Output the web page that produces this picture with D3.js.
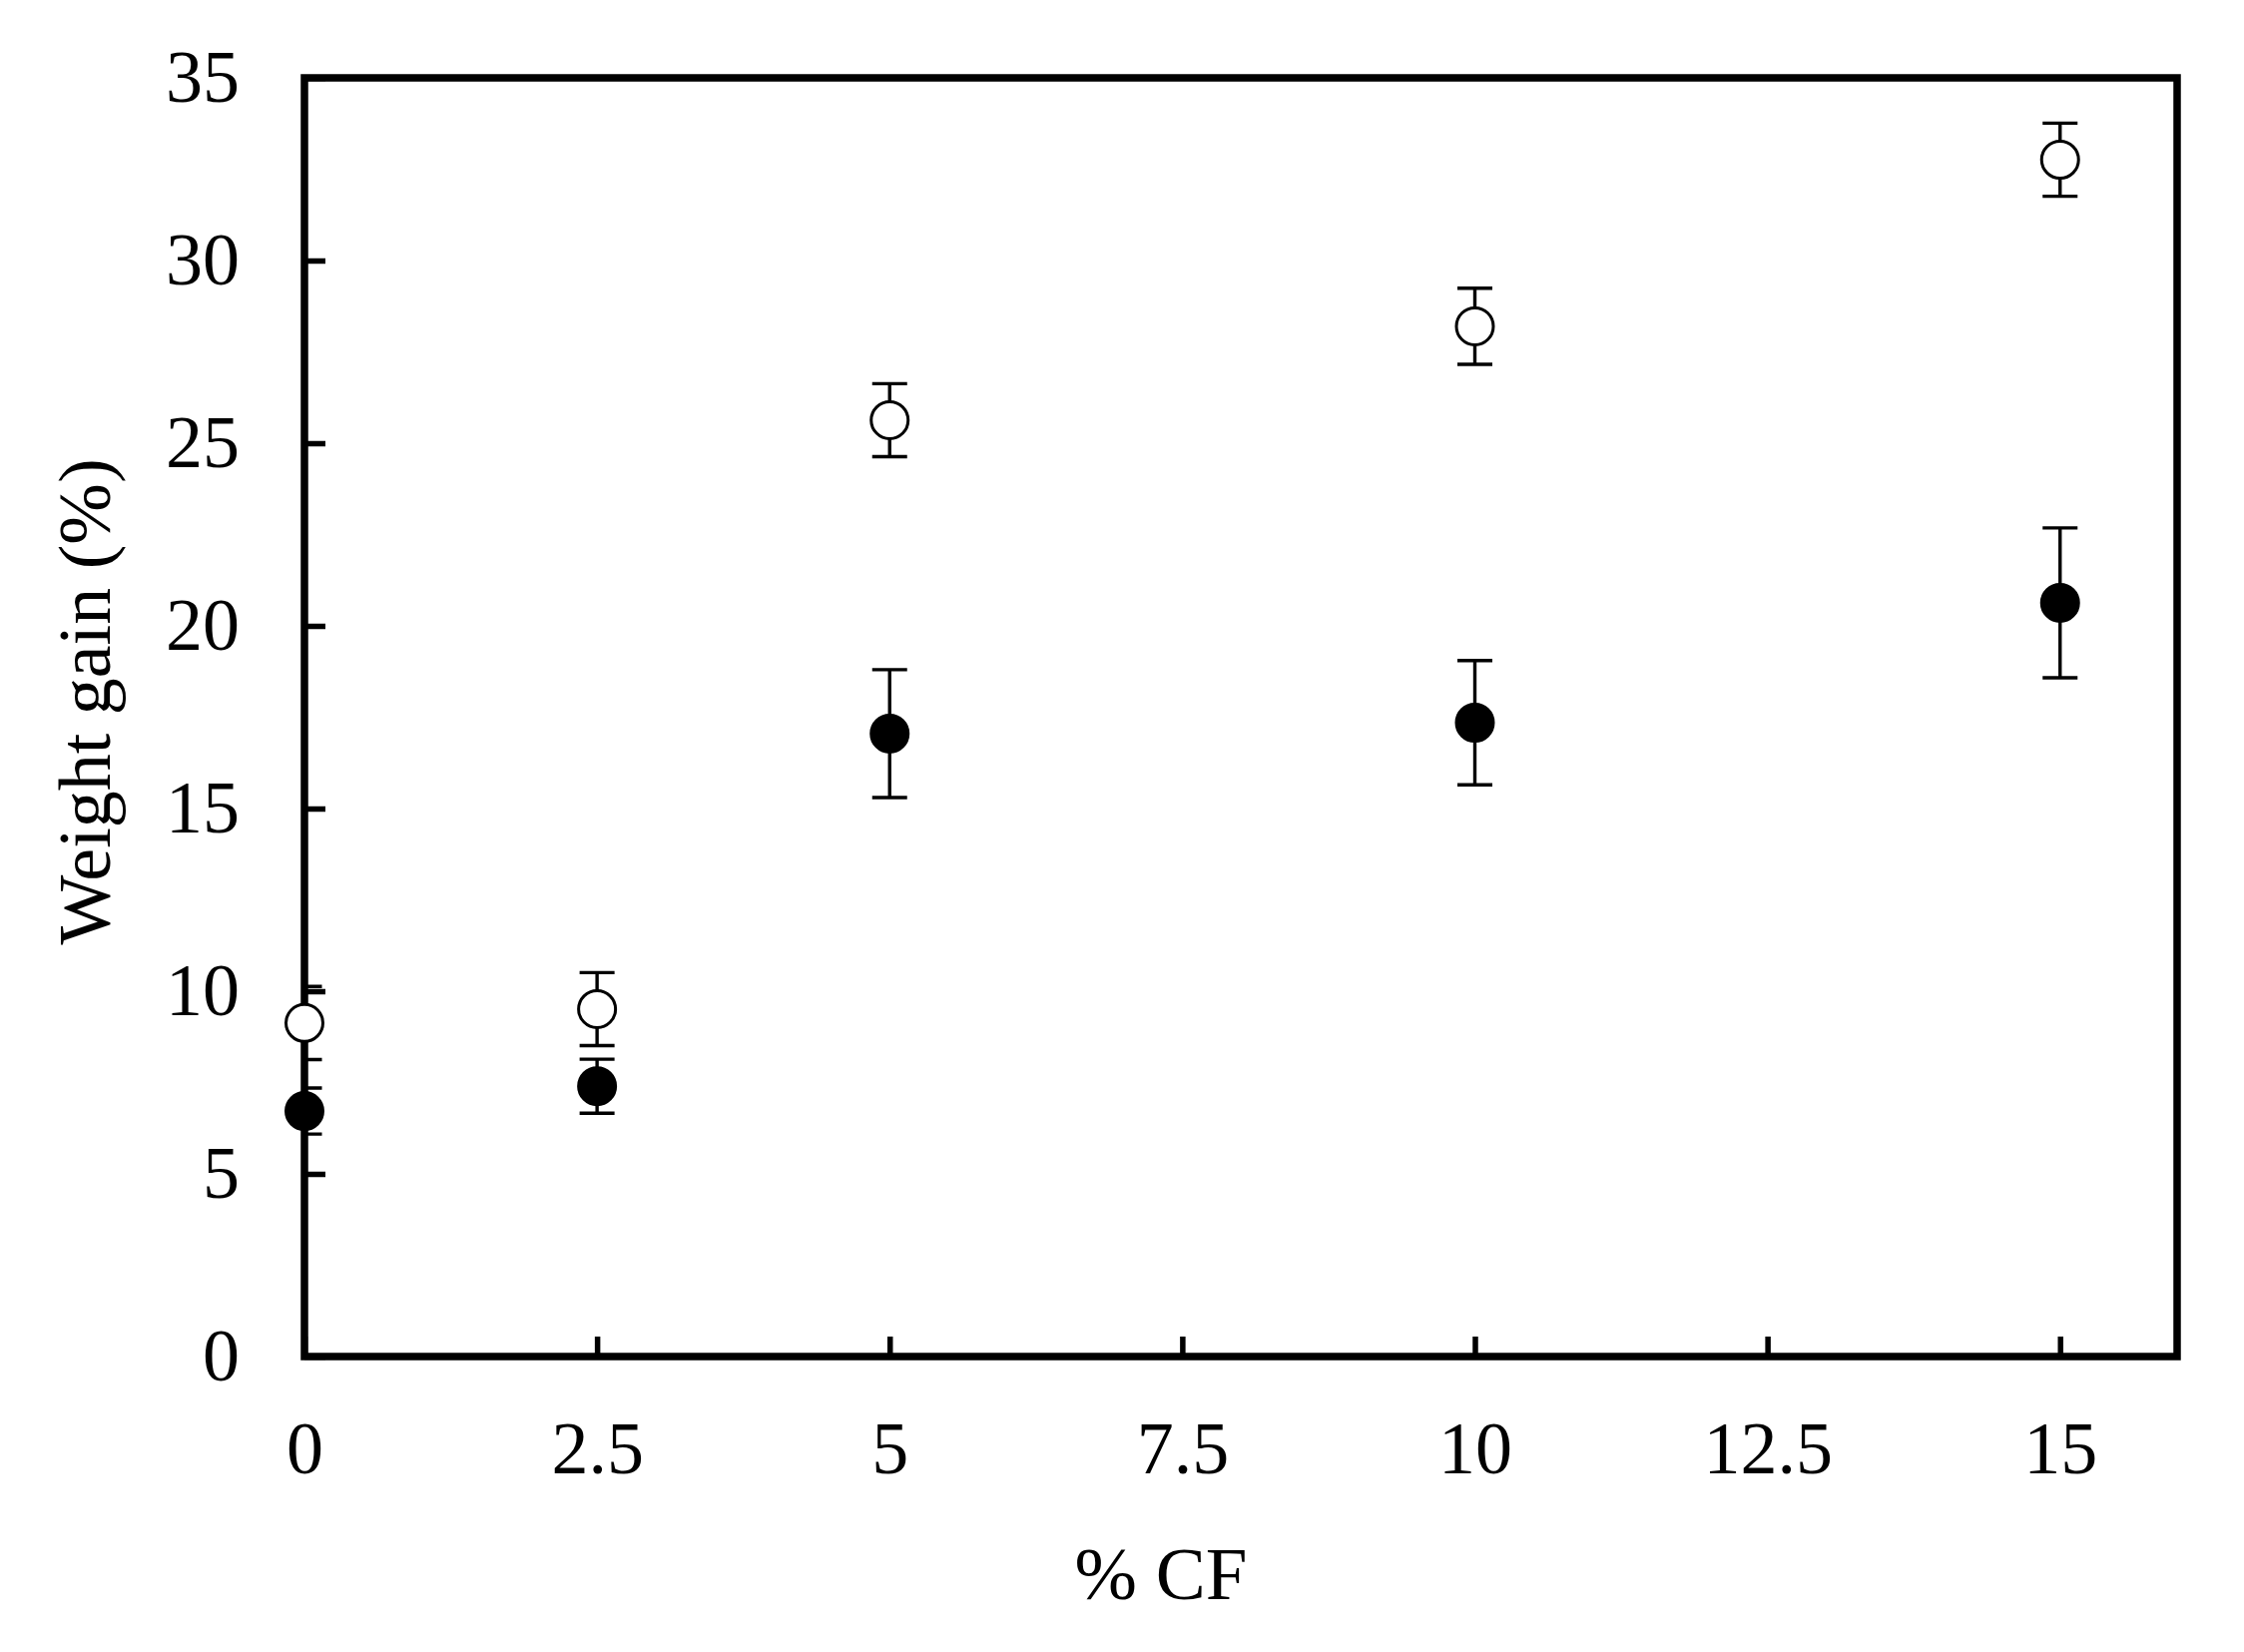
<!DOCTYPE html>
<html>
<head>
<meta charset="utf-8">
<script src="https://cdn.jsdelivr.net/npm/d3@7"></script>
<style>
  html, body { margin: 0; padding: 0; background: #ffffff; }
  svg { display: block; }
  text { font-family: "Liberation Serif", "Times New Roman", serif; fill: #000; }
</style>
</head>
<body>
<svg id="chart" width="2248" height="1655"></svg>
<script>
// ---- data ----
const cfLevels = [0, 2.5, 5, 10, 15];
const openValues = [9.13, 9.51, 25.63, 28.2, 32.76];
const openErrors = [1.0, 1.0, 1.0, 1.04, 1.0];
const filledValues = [6.72, 7.40, 17.05, 17.35, 20.63];
const filledErrors = [0.63, 0.74, 1.75, 1.7, 2.05];
const xTickValues = [0, 2.5, 5, 7.5, 10, 12.5, 15];
const yTickValues = [0, 5, 10, 15, 20, 25, 30, 35];
const xTitle = "% CF";
const yTitle = "Weight gain (%)";

// ---- layout ----
const W = 2248, H = 1655;
const plot = { left: 305, right: 2181, top: 78, bottom: 1359 };

const svg = d3.select("#chart");
svg.append("rect").attr("width", W).attr("height", H).attr("fill", "#fff");

const x = d3.scaleLinear().domain([0, 16]).range([plot.left, plot.right]);
const y = d3.scaleLinear().domain([0, 35]).range([plot.bottom, plot.top]);

// clip for error bars
svg.append("clipPath").attr("id", "plotClip")
  .append("rect")
  .attr("x", plot.left).attr("y", plot.top)
  .attr("width", plot.right - plot.left).attr("height", plot.bottom - plot.top);

// axes (ticks inside)
const fmt = d => String(d);
const xAxis = svg.append("g")
  .attr("transform", `translate(0,${plot.bottom})`)
  .call(d3.axisBottom(x).tickValues(xTickValues).tickFormat(fmt).tickSize(-20).tickPadding(64));
const yAxis = svg.append("g")
  .attr("transform", `translate(${plot.left},0)`)
  .call(d3.axisLeft(y).tickValues(yTickValues).tickFormat(fmt).tickSize(-21).tickPadding(65));

[xAxis, yAxis].forEach(g => {
  g.select(".domain").remove();
  g.selectAll(".tick line").attr("stroke", "#000").attr("stroke-width", 5.5);
  g.selectAll(".tick text")
    .attr("font-family", "'Liberation Serif', 'Times New Roman', serif")
    .attr("font-size", 74).attr("fill", "#000");
});

// frame
svg.append("rect")
  .attr("x", plot.left).attr("y", plot.top)
  .attr("width", plot.right - plot.left).attr("height", plot.bottom - plot.top)
  .attr("fill", "none").attr("stroke", "#000").attr("stroke-width", 7.5)
  .attr("stroke-linejoin", "miter");

// series
const series = [
  { values: openValues, errors: openErrors, fill: "#fff" },
  { values: filledValues, errors: filledErrors, fill: "#000" }
];

const capHalf = 17.5;
const errG = svg.append("g").attr("clip-path", "url(#plotClip)");
series.forEach(s => {
  cfLevels.forEach((c, i) => {
    const cx = x(c), v = s.values[i], e = s.errors[i];
    const y1 = y(v + e), y2 = y(v - e);
    errG.append("line").attr("x1", cx).attr("x2", cx).attr("y1", y1).attr("y2", y2)
      .attr("stroke", "#000").attr("stroke-width", 3.4);
    [y1, y2].forEach(yy => {
      errG.append("line").attr("x1", cx - capHalf).attr("x2", cx + capHalf)
        .attr("y1", yy).attr("y2", yy).attr("stroke", "#000").attr("stroke-width", 3.4);
    });
  });
});

series.forEach(s => {
  svg.append("g").selectAll("circle")
    .data(cfLevels.map((c, i) => ({ c, v: s.values[i] })))
    .join("circle")
    .attr("cx", d => x(d.c)).attr("cy", d => y(d.v))
    .attr("r", 18.5)
    .attr("fill", s.fill).attr("stroke", "#000").attr("stroke-width", 3);
});

// axis titles
svg.append("text")
  .attr("x", 1163).attr("y", 1602)
  .attr("text-anchor", "middle")
  .attr("font-size", 75)
  .text(xTitle);

svg.append("text")
  .attr("transform", "translate(110,703) rotate(-90)")
  .attr("text-anchor", "middle")
  .attr("font-size", 74)
  .attr("xml:space", "preserve")
  .text(yTitle);
</script>
</body>
</html>
